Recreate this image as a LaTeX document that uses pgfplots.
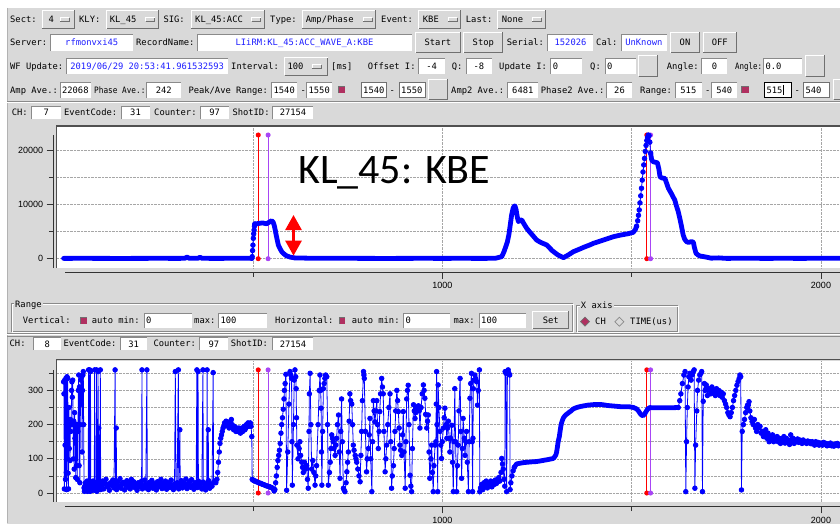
\documentclass[border=0pt]{standalone}
\usepackage{fontspec}
\setmainfont{Liberation Sans}
\newfontfamily\calib{Carlito}
\newfontfamily\ticf{Liberation Sans}
\newfontfamily\guif{DejaVu Sans Mono}
\usepackage{pgfplots}
\pgfplotsset{compat=1.18}
\usetikzlibrary{arrows.meta}
\definecolor{guigray}{HTML}{D9D9D9}
\definecolor{dk}{HTML}{8A8A8A}
\definecolor{dk2}{HTML}{707070}
\definecolor{maroonc}{HTML}{B03060}
\definecolor{txtblue}{HTML}{1E1EFF}
\definecolor{pblue}{HTML}{0000FF}
\definecolor{pred}{HTML}{FF0000}
\definecolor{ppur}{HTML}{A845F5}
\definecolor{framec}{HTML}{505050}
\tikzset{gui/.style={font=\guif\fontsize{8.8}{10}\selectfont, inner sep=0pt, text height=6.4pt, text depth=0pt}}
\newcommand\Lb[3]{\node[gui,anchor=west] at (#1,#2) {#3};}
\newcommand\Fc[6]{\fill[white] (#1,#3) rectangle (#2,#4);
 \draw[dk,line width=0.8pt] (#1,#4) -- (#1,#3) -- (#2,#3);
 \node[gui,text=#6] at ({(#1+#2)/2},{(#3+#4)/2}) {#5};}
\newcommand\Fl[5]{\fill[white] (#1,#3) rectangle (#2,#4);
 \draw[dk,line width=0.8pt] (#1,#4) -- (#1,#3) -- (#2,#3);
 \node[gui,anchor=west] at ({#1+2},{(#3+#4)/2}) {#5};}
\newcommand\Bt[5]{\fill[guigray] (#1,#3) rectangle (#2,#4);
 \draw[white,line width=1pt] ({#1+0.5},{#4-0.5}) -- ({#1+0.5},{#3+0.5}) -- ({#2-0.5},{#3+0.5});
 \draw[dk2,line width=1pt] ({#1+0.5},{#4-0.5}) -- ({#2-0.5},{#4-0.5}) -- ({#2-0.5},{#3+0.5});
 \node[gui] at ({(#1+#2)/2},{(#3+#4)/2}) {#5};}
\newcommand\Mb[7]{\Bt{#1}{#2}{#3}{#4}{}
 \node[gui,anchor=west] at (#6,{(#3+#4)/2}) {#5};
 \fill[guigray] (#7,{(#3+#4)/2-1.8}) rectangle ({#7+9},{(#3+#4)/2+1.8});
 \draw[white,line width=0.8pt] (#7,{(#3+#4)/2+1.8}) -- (#7,{(#3+#4)/2-1.8}) -- ({#7+9},{(#3+#4)/2-1.8});
 \draw[dk2,line width=0.8pt] (#7,{(#3+#4)/2+1.8}) -- ({#7+9},{(#3+#4)/2+1.8}) -- ({#7+9},{(#3+#4)/2-1.8});}
\newcommand\Cb[4]{\fill[maroonc] (#1,#3) rectangle (#2,#4); \draw[dk2,line width=0.6pt] (#1,#4)--(#1,#3)--(#2,#3);}
\pgfplotsset{guiax/.style={
  scale only axis, width=783pt,
  xmin=-17.4, xmax=2050.2,
  axis x line*=bottom, axis y line*=left,
  axis y line shift=3.7pt,
  axis background/.style={fill=white},
  xtick={1000,2000}, minor xtick={500,1500},
  tick align=outside,
  major tick length=6.7pt, minor tick length=4.5pt,
  tick style={black!80, line width=0.8pt},
  grid=both,
  major grid style={densely dotted, gray!70, line width=0.6pt},
  minor grid style={densely dotted, gray!70, line width=0.6pt},
  scaled ticks=false,
  tick label style={font=\fontsize{9}{10}\selectfont\ticf},
  /pgf/number format/assume math mode=true,
  /pgf/number format/set thousands separator={},
  thinser/.style={pblue, line width=0.8pt, mark=*, mark size=2.3pt, mark options={fill=pblue, draw=pblue}},
  thickser/.style={pblue, line width=4.8pt, line join=round, line cap=round, mark=none},
  redm/.style={pred, line width=1pt, mark=*, mark size=2pt, mark options={fill=pred,draw=pred}},
  purm/.style={ppur, line width=1pt, mark=*, mark size=2pt, mark options={fill=ppur,draw=ppur}},
}}
\begin{document}
\begin{tikzpicture}
\useasboundingbox (0,0) rectangle (840pt,523pt);
\clip (0,0) rectangle (840pt,523pt);
\fill[white] (0,0) rectangle (840pt,523pt);
\begin{scope}[shift={(0pt,523pt)},x=1pt,y=-1pt]
\fill[guigray] (7,8) rectangle (845,530);
\draw[gray!60,line width=0.8pt] (7.4,8) -- (7.4,523);
% row 1
\Lb{10}{19.5}{Sect:}
\Mb{41.7}{75}{10}{29.3}{4}{48.3}{60}
\Lb{79}{19.5}{KLY:}
\Mb{106}{159.3}{10}{29.3}{KL\_45}{109.7}{145.7}
\Lb{163.3}{19.5}{SIG:}
\Mb{190.7}{265}{10}{29.3}{KL\_45:ACC}{195}{251.7}
\Lb{270}{19.5}{Type:}
\Mb{301.7}{376}{10}{29.3}{Amp/Phase}{305.7}{363.3}
\Lb{381}{19.5}{Event:}
\Mb{418.3}{460.7}{10}{29.3}{KBE}{422.7}{448.3}
\Lb{465.7}{19.5}{Last:}
\Mb{497.3}{546}{10}{29.3}{None}{501.7}{532.3}
% row 2
\Lb{10}{42.7}{Server:}
\Fc{50.7}{132.7}{34.3}{51}{rfmonvxi45}{txtblue}
\Lb{136}{42.7}{RecordName:}
\Fc{197.3}{411.7}{34.3}{51}{LIiRM:KL\_45:ACC\_WAVE\_A:KBE}{txtblue}
\Bt{415}{460.7}{32}{53.3}{Start}
\Bt{463.3}{503.3}{32}{53.3}{Stop}
\Lb{506.7}{42.7}{Serial:}
\Fc{547.7}{593.3}{34.3}{51}{152026}{txtblue}
\Lb{596}{42.7}{Cal:}
\Fc{621}{666.7}{34.3}{51}{UnKnown}{txtblue}
\Bt{670}{700}{32}{53.3}{ON}
\Bt{702.7}{736.7}{32}{53.3}{OFF}
% row 3
\Lb{10}{66.5}{WF Update:}
\Fc{66.7}{227.7}{58.3}{74}{2019/06/29 20:53:41.961532593}{txtblue}
\Lb{231}{66.5}{Interval:}
\Mb{284.3}{328.3}{57.3}{76}{100}{287.3}{312.3}
\Lb{331}{66.5}{[ms]}
\Lb{367.7}{66.5}{Offset I:}
\Fc{418.3}{445}{58.3}{74}{-4}{black}
\Lb{451.7}{66.5}{Q:}
\Fc{466}{491.7}{58.3}{74}{-8}{black}
\Lb{499}{66.5}{Update I:}
\Fl{550.7}{581.7}{58.3}{74}{0}
\Lb{590}{66.5}{Q:}
\Fl{605}{636}{58.3}{74}{0}
\Bt{638.3}{658.3}{55}{76.7}{}
\Lb{666.7}{66.5}{Angle:}
\Fc{701.7}{727.3}{58.3}{74}{0}{black}
\Lb{735}{66.5}{\scalebox{0.85}[1]{Angle:}}
\Fl{763.3}{801.7}{58.3}{74}{0.0}
\Bt{805}{825}{55}{76.7}{}
% row 4
\Lb{10}{90}{Amp Ave.:}
\Fc{60}{90.7}{82.7}{97.7}{22068}{black}
\Lb{94}{90}{\scalebox{0.88}[1]{Phase Ave.:}}
\Fc{146.7}{180.7}{82.7}{97.7}{242}{black}
\Lb{188.3}{90}{Peak/Ave Range:}
\Fc{271.7}{296.7}{82.7}{97.7}{1540}{black}
\Lb{300.5}{90}{-}
\Fc{306.7}{331.7}{82.7}{97.7}{1550}{black}
\Cb{338.3}{345}{86.7}{93.3}
\Fl{361}{386.7}{82.7}{97.7}{1540}
\draw[dk2,line width=0.6pt] (361,82.7) rectangle (386.7,97.7);
\Lb{389.5}{90}{-}
\Fl{399}{425}{82.7}{97.7}{1550}
\draw[dk2,line width=0.6pt] (399,82.7) rectangle (425,97.7);
\Bt{428.3}{448.3}{79}{100}{}
\Lb{451}{90}{Amp2 Ave.:}
\Fc{507.3}{538.3}{82.7}{97.7}{6481}{black}
\Lb{540.7}{90}{Phase2 Ave.:}
\Fc{606.7}{632.3}{82.7}{97.7}{26}{black}
\Lb{640}{90}{Range:}
\Fc{675}{701.7}{82.7}{97.7}{515}{black}
\Lb{705}{90}{-}
\Fc{711.7}{736.7}{82.7}{97.7}{540}{black}
\Cb{741.7}{749.3}{86.3}{93}
\Fl{764.3}{791.7}{82.7}{97.7}{515}
\draw[black,line width=1.2pt] (764.3,82.7) rectangle (791.7,97.7);
\draw[black,line width=0.8pt] (783.5,85) -- (783.5,95.5);
\Lb{794.5}{90}{-}
\Fl{803.3}{829.3}{82.7}{97.7}{540}
\draw[dk2,line width=0.6pt] (803.3,82.7) rectangle (829.3,97.7);
\Bt{833.3}{850}{79}{100}{}
% separator
\draw[dk,line width=0.8pt] (7,101.6) -- (840,101.6);
\draw[white,line width=0.8pt] (7,102.6) -- (840,102.6);
% CH row 1
\Lb{11.7}{112.7}{CH:}
\Fc{31.7}{61}{106}{119.3}{7}{black}
\Lb{64}{112.7}{EventCode:}
\Fc{121}{150}{106}{119.3}{31}{black}
\Lb{154}{112.7}{Counter:}
\Fc{200}{229.3}{106}{119.3}{97}{black}
\Lb{232.3}{112.7}{ShotID:}
\Fc{272.7}{313.3}{106}{119.3}{27154}{black}
% Range panel
\draw[dk,line width=0.7pt] (11.7,303.3) rectangle (572,331);
\draw[white,line width=0.7pt] (12.7,304.3) rectangle (573,332);
\node[gui,anchor=west,fill=guigray,inner xsep=1pt] at (14,304) {Range};
\Lb{22.7}{320.7}{Vertical:}
\Cb{80}{86.7}{317.3}{324}
\Lb{91.7}{320.7}{auto min:}
\Fl{144}{191.7}{313}{328}{0}
\Lb{194}{320.7}{max:}
\Fl{218.3}{266.7}{313}{328}{100}
\Lb{275}{320.7}{Horizontal:}
\Cb{339.3}{345.3}{317.3}{324}
\Lb{351.7}{320.7}{auto min:}
\Fl{403.3}{450}{313}{328}{0}
\Lb{453.3}{320.7}{max:}
\Fl{479}{525.7}{313}{328}{100}
\Bt{532.3}{569.3}{310.7}{329.3}{Set}
\draw[dk,line width=0.7pt] (576,305) rectangle (677.7,331.7);
\draw[white,line width=0.7pt] (577,306) rectangle (678.7,332.7);
\node[gui,anchor=west,fill=guigray,inner xsep=1pt] at (579.7,305.7) {X axis};
\draw[dk2,fill=maroonc,line width=0.7pt] (585,317.2) -- (589.5,321.7) -- (585,326.2) -- (580.5,321.7) -- cycle;
\Lb{595}{321.7}{CH}
\draw[dk,fill=guigray,line width=0.7pt] (619.3,317.2) -- (623.8,321.7) -- (619.3,326.2) -- (614.8,321.7) -- cycle;
\Lb{630}{321.7}{TIME(us)}
\draw[dk,line width=0.8pt] (7,333.4) -- (840,333.4);
\draw[white,line width=0.8pt] (7,334.6) -- (840,334.6);
\draw[dk,line width=0.8pt] (7,335.9) -- (840,335.9);
% CH row 2
\Lb{9.5}{343.7}{CH:}
\Fc{33.3}{61}{337.7}{350}{8}{black}
\Lb{63.3}{343.7}{EventCode:}
\Fc{120.7}{146.7}{337.7}{350}{31}{black}
\Lb{153.3}{343.7}{Counter:}
\Fc{199.3}{228.3}{337.7}{350}{97}{black}
\Lb{230.7}{343.7}{ShotID:}
\Fc{272.7}{313.3}{337.7}{350}{27154}{black}
\end{scope}
% ---------------- top plot (amplitude) ----------------
\begin{axis}[guiax, at={(57pt,255pt)}, anchor=south west, height=141pt,
  ymin=-1716, ymax=24299,
  ytick={0,10000,20000}, minor ytick={5000,15000},
  axis x line shift=4pt,
  x axis line style={-, shorten <=8pt, black!80, line width=0.8pt},
  y axis line style={-, shorten >=8pt, black!80, line width=0.8pt}]
\addplot[redm] coordinates {(514,0)(514,22820)};
\addplot[purm] coordinates {(540,0)(540,22820)};
\addplot[redm] coordinates {(1540,0)(1540,22820)};
\addplot[purm] coordinates {(1550,0)(1550,22820)};
\addplot[thickser] coordinates {(0,60)(50,70)(100,60)(150,50)(200,60)(250,70)(300,60)(320,70)(326,300)(332,70)(355,80)(360,270)(366,70)(400,60)(450,70)(497,80)};
\addplot[thinser] coordinates {(497,80)(498,370)(499,1500)(500,2500)(501,3760)(502,4600)(503,5290)(504,6000)(505,6400)};
\addplot[thickser] coordinates {(505,6400)(515,6500)(525,6600)(536,6450)(542,6700)(549,7000)(553,6800)(556,6200)(558,5600)(561,4500)(564,3500)(567,2530)(572,1800)(576,1300)(580,1000)(588,550)(598,300)(610,150)(650,90)(700,80)(750,70)(800,60)(850,50)(900,60)(950,70)(1000,60)(1050,70)(1100,60)(1140,70)(1157,370)(1163,1300)(1168,2300)(1172,3140)(1176,4500)(1180,6500)(1183,8060)(1187,9300)(1190,9700)(1192,9720)(1195,9000)(1198,7700)(1201,6830)(1205,7100)(1210,7140)(1215,6500)(1223,5600)(1230,5000)(1240,4200)(1249,3450)(1260,3000)(1276,2530)(1290,1500)(1305,700)(1320,190)(1333,700)(1346,1290)(1360,1700)(1375,2150)(1390,2550)(1399,2840)(1415,3200)(1430,3550)(1452,4060)(1470,4350)(1490,4600)(1504,4860)(1510,5400)(1513,6000)};
\addplot[thinser] coordinates {(1513,6000)(1516,7000)(1518,8000)(1520,9000)(1522,10300)(1524,11600)(1526,13000)(1528,14500)(1530,16000)(1532,17300)(1534,18500)(1536,19800)(1538,20900)(1540,21800)(1542,22400)(1544,22820)(1546,22700)(1548,21500)(1550,19500)};
\addplot[thickser] coordinates {(1550,19500)(1553,18200)(1557,17900)(1562,17800)(1568,17700)(1572,16500)(1575,15100)(1580,14900)(1588,14800)(1593,13800)(1597,13000)(1605,12000)(1614,10800)(1618,9800)(1623,8700)(1627,7500)(1631,6200)(1636,4400)(1640,3600)(1645,3140)(1650,3000)(1655,3100)(1660,3150)(1663,3000)(1666,2000)(1670,1000)(1675,700)(1680,500)(1689,400)(1700,250)(1710,100)(1730,150)(1750,60)(1800,80)(1850,60)(1900,70)(1950,60)(2000,80)(2060,70)};
\end{axis}
% ---------------- bottom plot (phase) ----------------
\begin{axis}[guiax, at={(57pt,21.3pt)}, anchor=south west, height=141.2pt,
  ymin=-25.4, ymax=387.4,
  ytick={0,100,200,300}, minor ytick={50,150,250,350},
  axis x line shift=5pt,
  x axis line style={-, shorten <=8pt, black!80, line width=0.8pt},
  y axis line style={-, shorten >=9.5pt, black!80, line width=0.8pt}]
\addplot[redm] coordinates {(514,0)(514,360)};
\addplot[purm] coordinates {(540,0)(540,360)};
\addplot[redm] coordinates {(1540,0)(1540,360)};
\addplot[purm] coordinates {(1550,0)(1550,360)};
\addplot[thinser] coordinates {(0,325)(1,290)(2,12)(3,330)(4,140)(5,40)(6,335)(7,60)(8,10)(9,340)(10,100)(11,335)(12,58)(13,12)(14,250)(15,130)(16,200)(17,95)(18,215)(19,180)(20,200)(21,300)(22,325)(23,280)(24,330)(25,200)(26,100)(27,210)(28,70)(29,235)(30,160)(31,200)(32,45)(33,200)(34,80)(35,195)(36,40)(37,200)(38,180)(39,300)
(40,345)(41,80)(42,310)(43,30)(44,200)(45,300)(46,330)(47,260)(48,340)(49,120)(50,300)(51,345)(52,355)(53,200)(54,15)(55,5)(56,20)(57,8)(58,30)(59,15)(60,25)(61,10)(62,35)(63,5)(64,20)(65,10)(66,360)(67,12)(68,30)(69,360)(70,5)(71,355)(72,10)(73,25)(74,15)(75,30)(76,8)(77,20)(78,35)(79,10)(80,25)(81,18)(82,360)(83,8)(84,30)(85,20)(86,15)(87,360)(88,5)(89,25)(90,10)(91,355)(92,20)(93,190)(94,12)(95,30)(96,18)(97,360)(98,10)(99,25)
(100,20)(103,35)(106,12)(109,28)(112,40)(115,18)(118,25)(121,8)(124,30)(127,22)(130,38)(133,15)(136,360)(137,27)(139,190)(140,10)(143,33)(146,20)(149,42)(152,14)(155,26)(158,31)(161,9)(164,24)(167,36)(170,17)(173,29)(176,12)(179,40)(182,21)(185,33)(188,16)(191,25)(194,8)(197,30)(200,18)(203,27)(206,35)(207,360)(208,12)(211,22)(214,38)(217,15)(220,360)(221,26)(224,10)(227,31)(230,19)(233,37)(236,14)(239,28)(242,22)(245,9)(248,33)(251,18)(254,25)(257,40)(260,13)(263,29)(266,20)(269,35)(272,11)(275,24)(278,31)(281,16)(284,38)(287,22)(290,10)(293,27)(295,355)(297,18)(300,30)(303,360)(304,12)(307,185)(308,25)(311,36)(314,15)(317,28)(320,20)(323,41)(326,13)(329,26)(332,33)(335,17)(338,39)(341,22)(344,11)(347,30)(350,24)(352,360)(353,16)(355,355)(356,35)(359,19)(362,28)(365,12)(368,360)(369,32)(372,21)(375,9)(378,27)(379,360)(380,18)(382,185)(383,36)(386,14)(389,25)(392,20)(395,352)(396,30)(399,35)(402,30)
(405,40)(407,60)(409,90)(411,120)(413,145)(415,160)(417,170)(419,180)(421,190)(423,195)(425,205)(427,200)(429,210)(431,198)(433,205)(435,195)(437,190)(439,200)(441,210)(443,215)(445,200)(447,190)(449,185)(451,195)(453,185)(455,180)(457,190)(459,185)(461,180)(463,190)(465,185)(467,175)(469,185)(471,190)(473,180)(475,185)(477,195)(479,185)(481,190)(483,200)(485,195)(487,205)(489,195)(491,200)(493,205)(495,195)(497,165)
(498,40)(500,38)(503,36)(506,35)(509,33)(512,32)(515,30)(518,29)(521,28)(524,26)(527,25)(530,24)(533,22)(536,21)(539,20)(542,19)(545,18)(548,16)(551,15)(554,12)(556,6)(558,10)(560,30)(562,50)(564,75)(566,95)(568,110)(570,125)(572,145)(574,175)(576,200)(578,220)(580,245)(582,275)(583,300)(585,320)(587,347)
(589,8)(592,120)(595,260)(598,355)(600,345)(602,335)(603,150)(604,23)(607,200)(609,330)(611,360)(613,340)(614,305)(615,220)(616,140)(619,100)(622,130)(624,150)(626,110)(629,90)(631,75)(633,60)(636,90)(639,70)(642,80)(644,40)(646,14)(648,180)(649,290)(651,350)(653,200)(655,70)(658,95)(661,60)(664,23)(666,50)(668,80)(672,200)(675,300)(677,345)(679,300)(680,248)(681,120)(682,23)(684,180)(686,305)(688,320)(690,335)(692,345)(695,340)(697,200)(699,23)(702,60)(704,90)(706,130)(708,170)(710,160)(712,150)(714,130)(717,110)(719,140)(721,160)(723,200)(726,228)(728,120)(730,43)(732,180)(734,275)(736,150)(739,14)(741,8)(743,4)(746,30)(748,62)(750,90)(752,120)(754,210)(756,290)(758,270)(761,260)(763,200)(765,140)(767,125)(770,110)(772,100)(774,90)(777,70)(780,50)(783,33)(785,110)(787,180)(789,270)(792,355)(793,345)(794,335)(797,180)(800,62)(802,100)(805,130)(807,170)(809,218)(811,100)(814,4)(816,150)(818,270)(820,240)(822,208)(825,240)(827,270)(829,200)(831,130)(833,180)(835,238)(837,290)(840,335)(842,310)(844,290)(846,180)(849,62)(851,100)(853,140)(856,200)(859,250)(862,290)(864,150)(866,14)(868,50)(871,80)(873,130)(875,180)(877,240)(880,300)(882,270)(884,238)(886,190)(888,140)(890,125)(893,110)(895,170)(897,238)(899,120)(902,14)(904,150)(906,275)(908,300)(910,315)(912,200)(915,52)(917,20)(919,4)(921,130)(924,258)(926,240)(928,218)(930,235)(932,248)(934,250)(937,255)(939,240)
(941,190)(944,250)(947,290)(950,316)(952,300)(954,277)(956,230)(959,190)(961,210)(963,228)(965,120)(967,43)(970,100)(972,140)(974,60)(976,4)(978,80)(981,140)(983,150)(984,260)(985,355)(986,200)(988,4)(989,316)(991,250)(994,180)(996,140)(998,101)(1000,150)(1003,190)(1005,220)(1007,248)(1010,200)(1012,160)(1014,190)(1016,210)(1018,160)(1020,120)(1022,160)(1025,198)(1027,90)(1029,4)(1031,150)(1033,305)(1035,150)(1038,4)(1040,80)(1042,140)(1044,240)(1047,335)(1049,180)(1051,43)(1053,130)(1055,218)(1058,160)(1060,110)(1062,150)(1064,180)(1066,90)(1069,4)(1071,150)(1073,277)(1075,320)(1077,350)(1079,150)(1080,4)(1081,160)(1082,305)(1084,330)(1086,345)(1088,335)(1091,325)(1093,257)(1095,300)(1098,360)(1099,4)
(1101,15)(1104,25)(1107,10)(1110,30)(1113,20)(1116,35)(1119,15)(1122,28)(1125,22)(1128,35)(1131,18)(1134,30)(1137,25)(1140,38)(1143,28)(1146,33)(1149,45)(1152,35)(1155,60)(1157,101)(1159,85)(1161,70)(1163,40)(1165,20)(1166,355)(1168,350)(1170,4)(1172,355)(1174,360)(1176,350)(1178,345)(1179,10)(1181,30)(1184,50)(1187,65)(1190,75)};
\addplot[thickser] coordinates {(1190,75)(1193,80)(1196,85)(1205,87)(1215,89)(1225,90)(1235,91)(1249,92)(1260,94)(1270,96)(1280,98)(1293,101)(1297,106)(1300,112)(1302,120)(1304,135)(1306,150)(1309,165)(1311,180)(1313,195)(1315,205)(1318,215)(1320,220)(1324,226)(1328,230)(1335,236)(1340,240)(1346,246)(1355,250)(1365,253)(1375,255)(1385,257)(1395,258)(1405,259)(1416,259)(1425,258)(1435,256)(1445,255)(1455,254)(1465,253)(1475,252)(1485,252)(1495,252)(1505,250)(1513,246)(1518,240)(1522,233)(1526,228)(1530,226)(1534,230)(1538,238)(1542,245)(1548,250)(1555,249)(1575,249)(1600,249)(1623,250)};
\addplot[thinser] coordinates {(1623,250)(1627,270)(1630,290)(1634,320)(1638,345)(1641,355)(1643,4)(1645,150)(1647,250)(1649,310)(1651,340)(1654,350)(1657,330)(1660,345)(1663,355)(1665,360)(1667,14)(1669,140)(1672,240)(1674,300)(1677,330)(1680,345)(1683,350)(1685,355)(1687,4)(1689,268)(1692,320)(1694,300)(1697,316)(1700,285)(1703,305)(1706,300)(1709,290)(1712,310)(1715,295)(1718,300)(1721,285)(1724,305)(1727,290)(1730,300)(1733,285)(1736,295)(1739,280)(1742,290)(1745,270)(1748,260)(1751,250)(1754,235)(1757,228)(1760,223)(1763,235)(1766,250)(1769,270)(1772,285)(1775,300)(1778,315)(1781,326)(1784,335)(1786,345)(1788,340)(1790,9)(1792,180)(1795,200)(1798,215)(1801,235)(1804,250)(1806,257)(1808,257)(1810,267)(1812,240)(1815,220)(1818,209)(1821,200)(1824,215)(1827,190)(1830,180)(1833,200)(1836,190)(1839,195)(1842,175)(1845,180)(1848,165)(1851,170)(1854,185)(1857,160)(1860,175)(1863,150)(1866,165)(1869,155)(1872,170)(1875,150)(1878,160)(1881,155)(1884,165)(1887,150)(1890,160)(1893,145)(1896,158)(1899,150)(1902,165)(1905,146)(1908,160)(1911,150)(1914,155)(1917,142)(1920,170)(1923,150)(1926,160)(1929,145)(1932,155)(1935,150)(1938,158)(1941,148)(1944,155)(1947,152)(1950,145)(1953,155)(1956,148)(1959,150)(1962,145)(1965,152)(1968,147)(1971,150)(1974,144)(1977,150)(1980,146)(1983,140)(1986,150)(1989,143)(1992,148)(1995,140)(1998,146)(2001,143)(2004,140)(2007,148)(2010,142)(2013,145)(2016,138)(2019,143)(2022,140)(2025,146)(2028,138)(2031,142)(2034,137)(2037,143)(2040,140)(2043,145)(2046,138)(2049,142)(2052,140)(2055,143)};
\end{axis}
% ---------------- frames and annotation ----------------
\begin{scope}[shift={(0pt,523pt)},x=1pt,y=-1pt]
\draw[framec,line width=1.8pt] (56,126) -- (845,126);
\draw[framec,line width=1.2pt] (56.6,126) -- (56.6,268);
\draw[framec,line width=1.8pt] (56,359.4) -- (845,359.4);
\draw[framec,line width=1.2pt] (56.6,359.4) -- (56.6,501.7);
\node[anchor=base west,inner sep=0pt,font=\calib\fontsize{42}{46}\selectfont] at (298,183.3) {KL\_45: KBE};
\draw[pred,line width=2.7pt,{Triangle[width=16pt,length=15pt]}-{Triangle[width=16pt,length=15pt]}] (293.5,215) -- (293.5,255.7);
\end{scope}
\end{tikzpicture}
\end{document}
